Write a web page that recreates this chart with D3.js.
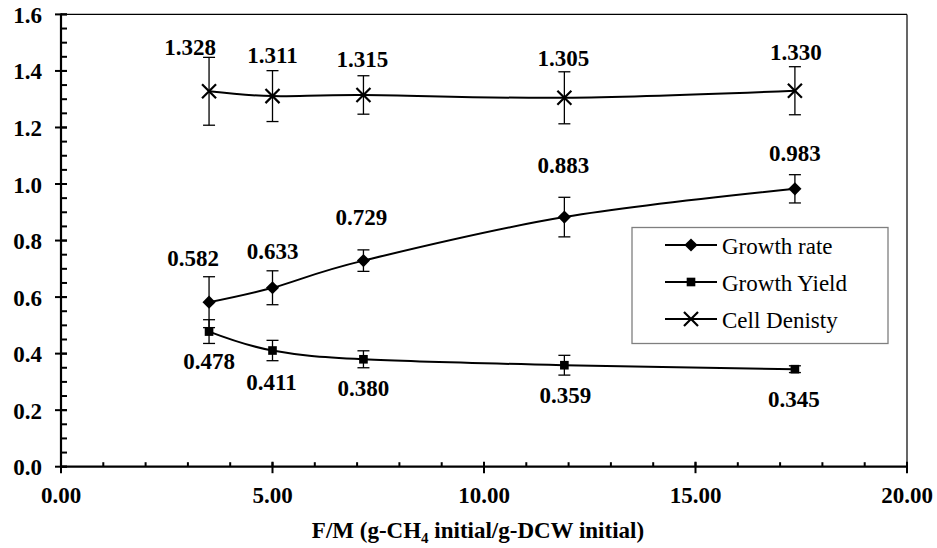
<!DOCTYPE html>
<html>
<head>
<meta charset="utf-8">
<script src="https://cdn.jsdelivr.net/npm/d3@7/dist/d3.min.js"></script>
<style>
  html, body { margin: 0; padding: 0; background: #fff; }
  svg { display: block; }
</style>
</head>
<body>
<svg id="chart" width="937" height="548"></svg>
<script>
// F/M ratio (g-CH4 initial / g-DCW initial)
const fm = [3.5, 5.0, 7.15, 11.9, 17.35];

// Growth rate with standard deviation
const growthRate = [0.582, 0.633, 0.729, 0.883, 0.983];
const growthRateErr = [0.09, 0.06, 0.038, 0.07, 0.05];

// Growth yield with standard deviation
const growthYield = [0.478, 0.411, 0.380, 0.359, 0.345];
const growthYieldErr = [0.042, 0.036, 0.03, 0.035, 0.012];

// Cell density with standard deviation
const cellDensity = [1.328, 1.311, 1.315, 1.305, 1.330];
const cellDensityErr = [0.12, 0.09, 0.068, 0.092, 0.085];

const seriesNames = ["Growth rate", "Growth Yield", "Cell Denisty"];
const xTickValues = [0, 5, 10, 15, 20];
const yTickValues = [0, 0.2, 0.4, 0.6, 0.8, 1.0, 1.2, 1.4, 1.6];

// Label nudges (px) relative to each point: [dx, dy]
const labelNudge = {
  "Growth rate": [[-16, -36], [0, -29], [-2, -36], [-1, -44], [0, -28]],
  "Growth Yield": [[0, 37], [-1, 39], [0, 37], [1, 38], [-1, 38]],
  "Cell Denisty": [[-19, -36], [0, -33], [-1, -28], [-1, -32], [1, -31]]
};

(function () {
  const FONT = '"Liberation Serif"';
  const svg = d3.select("#chart");
  const plotL = 61, plotR = 907, plotT = 14.4, plotB = 466.7;

  const x = d3.scaleLinear().domain([0, 20]).range([plotL, plotR]);
  const y = d3.scaleLinear().domain([0, 1.6]).range([plotB, plotT]);

  // plot frame: thin top/right borders
  svg.append("line").attr("x1", plotL).attr("x2", plotR).attr("y1", plotT).attr("y2", plotT)
    .attr("stroke", "#000").attr("stroke-width", 1.2);
  svg.append("line").attr("x1", plotR).attr("x2", plotR).attr("y1", plotT).attr("y2", plotB)
    .attr("stroke", "#000").attr("stroke-width", 1.2);

  // y axis: major ticks crossing, minor inward
  const gy = svg.append("g");
  gy.append("line").attr("x1", plotL).attr("x2", plotL).attr("y1", plotT - 1).attr("y2", plotB + 1)
    .attr("stroke", "#000").attr("stroke-width", 2.2);
  const yMinor = d3.range(0, 1.6001, 0.05);
  gy.selectAll("line.minor").data(yMinor).join("line").attr("class", "minor")
    .attr("x1", plotL).attr("x2", plotL + 6).attr("y1", d => y(d)).attr("y2", d => y(d))
    .attr("stroke", "#000").attr("stroke-width", 2);
  gy.selectAll("line.major").data(yTickValues).join("line").attr("class", "major")
    .attr("x1", plotL - 6).attr("x2", plotL + 6).attr("y1", d => y(d)).attr("y2", d => y(d))
    .attr("stroke", "#000").attr("stroke-width", 2);
  gy.selectAll("text").data(yTickValues).join("text")
    .attr("x", 42).attr("y", d => y(d) + 8.5)
    .attr("text-anchor", "end").attr("font-size", 23).attr("font-weight", "bold")
    .style("font-family", FONT)
    .text(d => d.toFixed(1));

  // x axis: major ticks crossing, minor inward
  const gx = svg.append("g");
  gx.append("line").attr("x1", plotL - 1).attr("x2", plotR + 1).attr("y1", plotB).attr("y2", plotB)
    .attr("stroke", "#000").attr("stroke-width", 2.2);
  const xMinor = d3.range(0, 20.001, 1);
  gx.selectAll("line.minor").data(xMinor).join("line").attr("class", "minor")
    .attr("x1", d => x(d)).attr("x2", d => x(d)).attr("y1", plotB - 4.5).attr("y2", plotB)
    .attr("stroke", "#000").attr("stroke-width", 2);
  gx.selectAll("line.major").data(xTickValues).join("line").attr("class", "major")
    .attr("x1", d => x(d)).attr("x2", d => x(d)).attr("y1", plotB - 5).attr("y2", plotB + 6.5)
    .attr("stroke", "#000").attr("stroke-width", 2);
  gx.selectAll("text").data(xTickValues).join("text")
    .attr("x", d => x(d)).attr("y", 503)
    .attr("text-anchor", "middle").attr("font-size", 23).attr("font-weight", "bold")
    .style("font-family", FONT)
    .text(d => d.toFixed(2));

  // x axis title with subscript
  const title = svg.append("text").attr("x", 478).attr("y", 538)
    .attr("text-anchor", "middle").attr("font-size", 23).attr("font-weight", "bold")
    .style("font-family", FONT);
  title.append("tspan").text("F/M (g-CH");
  title.append("tspan").attr("font-size", 15).attr("dy", 5).text("4");
  title.append("tspan").attr("dy", -5).text(" initial/g-DCW initial)");

  // marker shapes
  const markerShape = {
    "Growth rate": d3.symbol().type(d3.symbolDiamond2).size(110),
    "Growth Yield": d3.symbol().type(d3.symbolSquare2).size(95),
    "Cell Denisty": d3.symbol().type(d3.symbolTimes).size(130)
  };
  function drawMarker(g, name, cx, cy) {
    const p = g.append("path").attr("d", markerShape[name]()).attr("transform", `translate(${cx},${cy})`);
    if (name === "Cell Denisty") {
      p.attr("fill", "none").attr("stroke", "#000").attr("stroke-width", 2.2);
    } else {
      p.attr("fill", "#000").attr("stroke", "none");
    }
  }

  const series = [
    { name: "Growth rate", values: growthRate, err: growthRateErr },
    { name: "Growth Yield", values: growthYield, err: growthYieldErr },
    { name: "Cell Denisty", values: cellDensity, err: cellDensityErr }
  ];

  const lineGen = d3.line().x(d => x(d[0])).y(d => y(d[1])).curve(d3.curveCatmullRom.alpha(0));

  series.forEach(s => {
    const g = svg.append("g");
    const pts = fm.map((f, i) => [f, s.values[i], s.err[i]]);
    // smoothed connecting line
    g.append("path").datum(pts).attr("d", lineGen)
      .attr("fill", "none").attr("stroke", "#000").attr("stroke-width", 2);
    // error bars
    pts.forEach(p => {
      const cx = x(p[0]);
      const yt = y(p[1] + p[2]), yb = y(p[1] - p[2]);
      g.append("line").attr("x1", cx).attr("x2", cx).attr("y1", yt).attr("y2", yb)
        .attr("stroke", "#000").attr("stroke-width", 1.3);
      [yt, yb].forEach(yy => g.append("line").attr("x1", cx - 6).attr("x2", cx + 6)
        .attr("y1", yy).attr("y2", yy).attr("stroke", "#000").attr("stroke-width", 1.3));
    });
    // markers
    pts.forEach(p => drawMarker(g, s.name, x(p[0]), y(p[1])));
    // value labels
    pts.forEach((p, i) => {
      const n = labelNudge[s.name][i];
      g.append("text").attr("x", x(p[0]) + n[0]).attr("y", y(p[1]) + n[1])
        .attr("text-anchor", "middle").attr("font-size", 23).attr("font-weight", "bold")
        .style("font-family", FONT)
        .text(p[1].toFixed(3));
    });
  });

  // legend
  const lg = svg.append("g");
  lg.append("rect").attr("x", 632).attr("y", 227.5).attr("width", 256).attr("height", 116)
    .attr("fill", "#fff").attr("stroke", "#7f7f7f").attr("stroke-width", 1.3);
  seriesNames.forEach((name, i) => {
    const cy = 245 + i * 37;
    lg.append("line").attr("x1", 665).attr("x2", 717).attr("y1", cy).attr("y2", cy)
      .attr("stroke", "#000").attr("stroke-width", 2);
    drawMarker(lg, name, 691, cy);
    lg.append("text").attr("x", 722).attr("y", cy + 8.5).attr("font-size", 23)
      .style("font-family", FONT).text(name);
  });
})();
</script>
</body>
</html>
